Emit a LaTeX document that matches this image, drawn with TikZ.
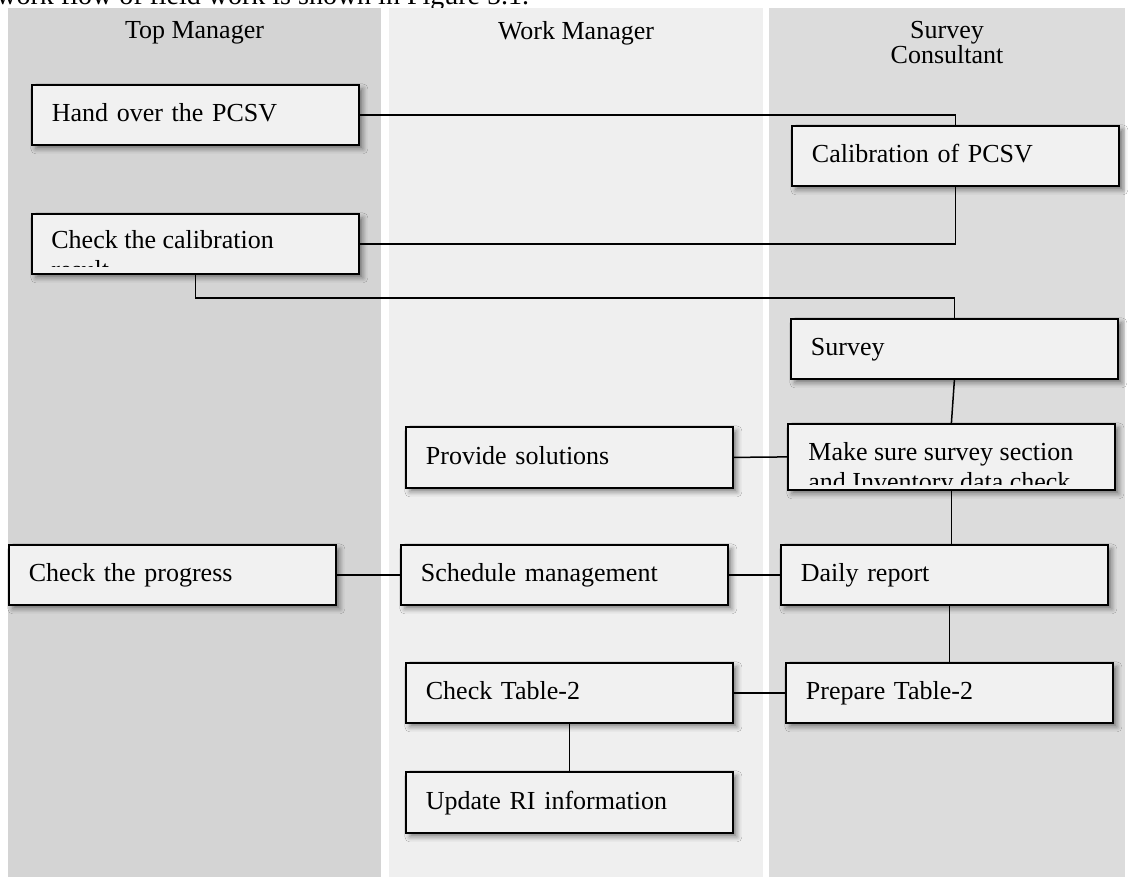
\documentclass[tikz,border=0pt]{standalone}
\usepackage{fontspec}
\setmainfont{Liberation Serif}
\usetikzlibrary{shadows.blur}

\definecolor{topgray}{HTML}{D4D4D4}
\definecolor{workgray}{HTML}{EFEFEF}
\definecolor{surveygray}{HTML}{DCDCDC}
\definecolor{boxfill}{HTML}{F1F1F1}

\begin{document}
\begin{tikzpicture}[x=0.5pt, y=-0.5pt,
    lane/.style={fill=#1, draw=none},
    head/.style={anchor=north, inner sep=0pt, align=center, font=\fontsize{13}{12.5}\selectfont},
    box/.style={draw, line width=0.9pt, fill=boxfill, anchor=north west,
        minimum width=163.5pt, minimum height=30pt, text width=143.5pt,
        text height=9.5pt, text depth=2.5pt,
        inner xsep=10pt, align=left, font=\fontsize{13}{15}\selectfont,
        blur shadow={shadow xshift=2pt, shadow yshift=-2pt, shadow blur radius=2.5pt, shadow opacity=45}},
    boxtext/.style={anchor=north west, inner sep=0pt, align=left, font=\fontsize{13}{15}\selectfont},
    link/.style={line width=0.75pt}]
    \useasboundingbox (0,0) rectangle (1129,878);
    \clip (0,0) rectangle (1129,878);
    \fill[white] (0,0) rectangle (1129,878);
    % lead-in line of the text above
    \node[anchor=base west, inner sep=0pt, font=\fontsize{14}{16}\selectfont] (intro) at (-4,4) {work flow of field work is shown in Figure 5.1.};
    % swim lanes
    \fill[lane=topgray] (8,8) rectangle (381,877);
    \fill[lane=workgray] (389,8) rectangle (763,877);
    \fill[lane=surveygray] (769,8) rectangle (1125,877);
    \node[head] (top) at (194.5,21) {Top Manager};
    \node[head] (work) at (576,21) {Work Manager};
    \node[head] (consultant) at (947,21) {Survey\\Consultant};
    % Top Manager
    \node[box] (hand) at (31,84) {Hand over the PCSV};
    \node[box] (check) at (31,213) {};
    \node[box] (progress) at (8,544) {Check the progress};
    % Work Manager
    \node[box, minimum height=30.5pt] (provide) at (405,426) {Provide solutions};
    \node[box] (schedule) at (400,544) {Schedule management};
    \node[box] (checktab) at (405,662) {Check Table-2};
    \node[box, minimum height=30.5pt] (update) at (405,771) {Update RI information};
    % Survey Consultant
    \node[box] (calib) at (791,125) {Calibration of PCSV};
    \node[box] (survey) at (790,318) {Survey};
    \node[box, minimum height=33pt] (makesure) at (787,423) {};
    \node[box] (daily) at (780,544) {Daily report};
    \node[box] (prepare) at (785,662) {Prepare Table-2};
    % two-line texts cut off by their boxes
    \begin{scope}
        \clip (check.north west) rectangle ([yshift=4pt]check.south east);
        \node[boxtext] (checktext) at (51,230) {Check the calibration\\result};
    \end{scope}
    \begin{scope}
        \clip (makesure.north west) rectangle ([yshift=3pt]makesure.south east);
        \node[boxtext] (makesuretext) at (808,442) {Make sure survey section\\and Inventory data check};
    \end{scope}
    % connectors
    \draw[link] (hand.east) -| (calib.north);
    \draw[link] (calib.south) |- (check.east);
    \draw[link] (check.south) -- ++(0,23) -| (survey.north);
    \draw[link] (survey.south) -- (makesure.north);
    \draw[link] (provide.east) -- (makesure.west);
    \draw[link] (makesure.south) -- (makesure.south |- daily.north);
    \draw[link] (progress.east) -- (schedule.west);
    \draw[link] (schedule.east) -- (daily.west);
    \draw[link] (prepare.north |- daily.south) -- (prepare.north);
    \draw[link] (checktab.east) -- (prepare.west);
    \draw[link] (checktab.south) -- (update.north);
\end{tikzpicture}
\end{document}
